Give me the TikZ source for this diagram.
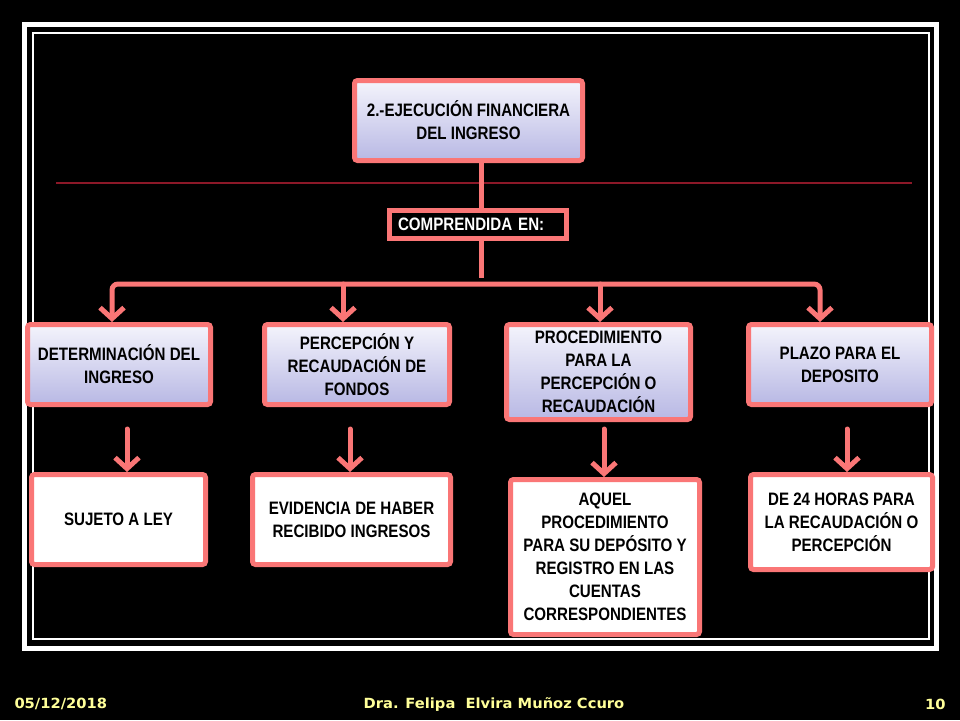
\documentclass[tikz,border=0pt]{standalone}
\usepackage{fontspec}
\setmainfont{Liberation Sans}[FakeStretch=0.84]
\newfontfamily\footfont{DejaVu Sans}[FakeStretch=1.05]
\usepackage{xcolor}
\usetikzlibrary{arrows.meta, positioning, calc}
\definecolor{salmon}{RGB}{250,118,118}
\definecolor{lavtop}{RGB}{244,244,252}
\definecolor{lavbot}{RGB}{184,184,228}
\definecolor{darkrule}{RGB}{140,24,40}
\definecolor{footyellow}{RGB}{255,255,153}

\begin{document}
\begin{tikzpicture}[x=1pt,y=-1pt,line width=5pt,>={Straight Barb[length=11pt,width=24pt]},
    lav/.style={draw=salmon,rounded corners=3pt,top color=lavtop,bottom color=lavbot,
      align=center,inner sep=2pt,font=\bfseries\fontsize{18}{23}\selectfont},
    wht/.style={draw=salmon,rounded corners=3pt,fill=white,
      align=center,inner sep=2pt,font=\bfseries\fontsize{18}{23}\selectfont},
    link/.style={draw=salmon,line width=5pt,line cap=round},
    foot/.style={text=footyellow,inner sep=0pt,font=\footfont\bfseries\fontsize{14}{16}\selectfont}]
    \useasboundingbox (0,0) rectangle (960,720);
    \fill[black] (0,0) rectangle (960,720); %

    %%%% cadre
    \draw [white,line width=5pt] (24.5,24.5) rectangle (936.5,648.5);
    \draw [white,line width=2pt] (32.5,32.5) rectangle (928.5,638.5);
    \draw [darkrule,line width=1.2pt] (56,183) -- (912,183);

    %%%% boxes
    \node (top) at (468.5,120.5) [lav,minimum width=228pt,minimum height=80pt] {2.-EJECUCIÓN FINANCIERA\\DEL INGRESO}; %
    \node (comp) at (478,224.5) [draw=salmon,fill=black,text=white,align=left,text width=160pt,
      inner xsep=8.5pt,minimum height=28pt,font=\bfseries\fontsize{18}{23}\selectfont] {COMPRENDIDA EN:}; %
    \node (d1) at (119,364.5) [lav,minimum width=183pt,minimum height=80pt] {DETERMINACIÓN DEL\\INGRESO}; %
    \node (d2) at (357,364.5) [lav,minimum width=185pt,minimum height=80pt] {PERCEPCIÓN Y\\RECAUDACIÓN DE\\FONDOS}; %
    \node (d3) at (598.5,372) [lav,minimum width=184pt,minimum height=95pt] {PROCEDIMIENTO\\PARA LA\\PERCEPCIÓN O\\RECAUDACIÓN}; %
    \node (d4) at (840,364.5) [lav,minimum width=183pt,minimum height=80pt] {PLAZO PARA EL\\DEPOSITO}; %
    \node (e1) at (118.5,519.5) [wht,minimum width=174pt,minimum height=90pt] {SUJETO A LEY}; %
    \node (e2) at (351.5,519.5) [wht,minimum width=198pt,minimum height=90pt] {EVIDENCIA DE HABER\\RECIBIDO INGRESOS}; %
    \node (e3) at (605,557) [wht,minimum width=189pt,minimum height=155pt] {AQUEL\\PROCEDIMIENTO\\PARA SU DEPÓSITO Y\\REGISTRO EN LAS\\CUENTAS\\CORRESPONDIENTES}; %
    \node (e4) at (841.5,522) [wht,minimum width=182pt,minimum height=95pt] {DE 24 HORAS PARA\\LA RECAUDACIÓN O\\PERCEPCIÓN}; %

    %%%% points
    \coordinate (s) at (481,0);
    \coordinate (bend) at (481,278);
    \coordinate (bl) at (112,284);
    \coordinate (b2) at (343,284);
    \coordinate (b3) at (600,284);
    \coordinate (br) at (820,284);
    \coordinate (a1) at (127,429);
    \coordinate (a2) at (350,429);
    \coordinate (a3) at (604,429);
    \coordinate (a4) at (847,429);

    %%%% arcs
    \draw [link,line cap=butt] (s |- top.south) to (s |- comp.north); %
    \draw [link,line cap=butt] (s |- comp.south) to (bend); %
    \draw [link,<->,rounded corners=6pt] (bl |- d1.north) -- (bl) -- (br) -- (br |- d4.north); %
    \draw [link,->] (b2) to (b2 |- d2.north); %
    \draw [link,->] (b3) to (b3 |- d3.north); %
    \draw [link,->] (a1) to (a1 |- e1.north); %
    \draw [link,->] (a2) to (a2 |- e2.north); %
    \draw [link,->] (a3) to (a3 |- e3.north); %
    \draw [link,->] (a4) to (a4 |- e4.north); %

    %%%% pie
    \node (date) at (12,704) [foot,anchor=west] {05/12/2018}; %
    \node (name) at (494,704) [foot] {Dra. Felipa\ \ Elvira Muñoz Ccuro}; %
    \node (page) at (948,704) [foot,anchor=east] {10}; %
  \end{tikzpicture}
\end{document}
